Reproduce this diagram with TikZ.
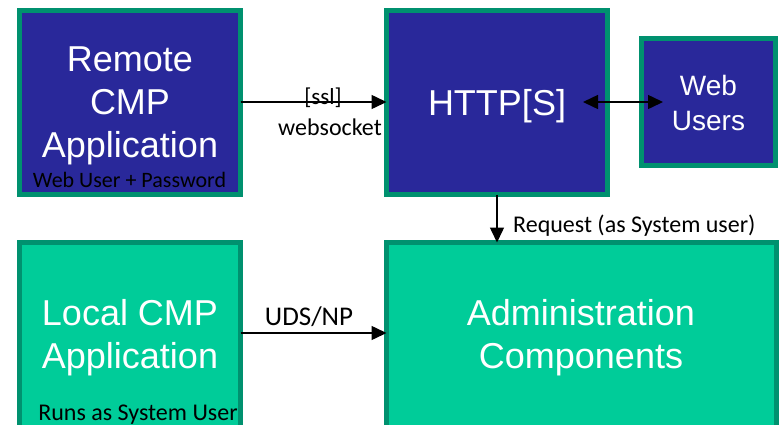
\documentclass[tikz,border=0pt]{standalone}
\usepackage{fontspec}
\setmainfont{Liberation Sans}
\newfontfamily\calfont{Carlito}
\usetikzlibrary{arrows.meta}
\definecolor{boxblue}{HTML}{29289A}
\definecolor{boxgreen}{HTML}{00CC99}
\definecolor{edgegreen}{HTML}{00916F}
\begin{document}
\begin{tikzpicture}[x=1pt,y=-1pt,
  box/.style={draw=edgegreen, line width=5pt, inner sep=0pt, outer sep=0pt},
  bluebox/.style={box, fill=boxblue},
  greenbox/.style={box, fill=boxgreen},
  big/.style={text=white, font=\fontsize{36}{43}\selectfont, align=center, anchor=base, inner sep=0pt},
  small/.style={text=black, font=\calfont\fontsize{24}{28}\selectfont, anchor=base, inner sep=0pt},
  conn/.style={line width=1.5pt, -{Triangle[length=15pt,width=14pt]}},
  dconn/.style={line width=1.5pt, {Triangle[length=15pt,width=14pt]}-{Triangle[length=15pt,width=14pt]}}
]
\useasboundingbox (0,0) rectangle (780,424);
\clip (0,0) rectangle (780,424);

% boxes
\node[bluebox, minimum width=221pt, minimum height=184pt] (remote) at (130,102.5) {};
\node[bluebox, minimum width=221pt, minimum height=184pt] (http) at (497,102.5) {};
\node[bluebox, minimum width=134pt, minimum height=127pt] (web) at (708.5,102) {};
\node[greenbox, minimum width=221pt, minimum height=217.5pt] (local) at (130,351.25) {};
\node[greenbox, minimum width=390pt, minimum height=217.5pt] (admin) at (581.5,351.25) {};

% box texts (base = baseline of last line)
\node[big] (remotetxt) at (130,157) {Remote\\CMP\\Application};
\node[big] (httptxt) at (497,115) {HTTP[S]};
\node[big, font=\fontsize{28}{35}\selectfont] (webtxt) at (708.5,130) {Web\\Users};
\node[big] (localtxt) at (130,368) {Local CMP\\Application};
\node[big] (admintxt) at (581,368) {Administration\\Components};

\node[small, font=\calfont\fontsize{22}{26}\selectfont] (remoteuser) at (129.5,187) {Web User + Password};
\node[small] (localuser) at (138,420) {Runs as System User};

% connectors
\coordinate (ytop) at (0,102);
\coordinate (ybot) at (0,333);
\coordinate (d1) at (583,102);
\coordinate (d2) at (663,102);

\draw[conn] (remote.east |- ytop) -- (http.west |- ytop);
\draw[dconn] (d1) -- (d2);
\draw[conn] (http.south) -- (http.south |- admin.north);
\draw[conn] (local.east |- ybot) -- (admin.west |- ybot);

% connector labels
\node[small, font=\calfont\fontsize{23}{27}\selectfont] (ssl) at (323,104) {[ssl]};
\node[small] (ws) at (330,135) {websocket};
\node[small, anchor=base west] (req) at (513,232) {Request (as System user)};
\node[small, font=\calfont\fontsize{27}{31}\selectfont] (uds) at (309,325) {UDS/NP};
\end{tikzpicture}
\end{document}
